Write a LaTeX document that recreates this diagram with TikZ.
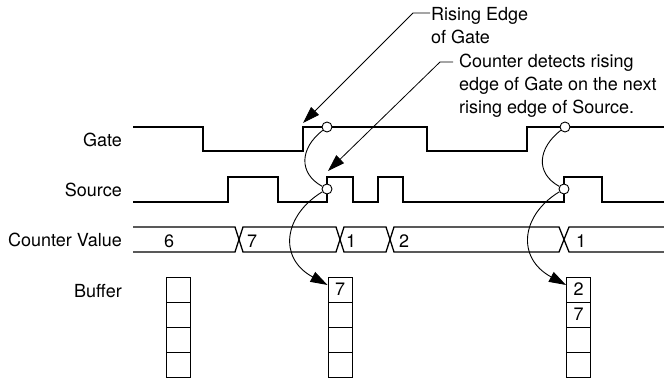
\documentclass[tikz,border=0pt]{standalone}
\usepackage{fontspec}
\setmainfont{TeX Gyre Heros}
\usetikzlibrary{arrows.meta}

\begin{document}
\begin{tikzpicture}[
      x=1pt, y=-1pt,
      font=\fontsize{18}{23}\selectfont,
      signal/.style={line width=1.3pt, line join=miter},
      siglabel/.style={anchor=east, inner sep=0pt},
      buslabel/.style={anchor=west, inner sep=0pt},
      edgemark/.style={
          circle, draw, fill=white, line width=0.9pt,
          minimum size=10pt, inner sep=0pt
      },
      bufcell/.style={
          rectangle, draw, line width=1pt,
          minimum width=24pt, minimum height=25pt, inner sep=0pt
      },
      notetext/.style={anchor=north west, align=left, inner sep=1pt},
      hop/.style={line width=0.9pt},
      pointer/.style={line width=0.9pt, -{Triangle[length=17pt,width=11pt]}}
  ]
    \useasboundingbox (0,0) rectangle (664,378);

    % Signal names
    \node[siglabel] (gatelbl) at (122,140) {Gate};
    \node[siglabel] (srclbl) at (122,190) {Source};
    \node[siglabel] (cntlbl) at (122,240) {Counter Value};
    \node[siglabel] (buflbl) at (122,291) {Buffer};

    % Gate and Source waveforms
    \draw[signal] (133,127) -| (203,151) -| (303,127) -| (427,151) -| (527,127) -- (664,127);
    \draw[signal] (133,202) -| (228,177) -| (278,202) -| (327,177) -| (353,202)
        -| (378,177) -| (403,202) -| (564,177) -| (602,202) -- (664,202);

    % Counter value bus
    \draw[signal] (133,227) -- (235,227) -- (243,252) -- (336,252) -- (344,227)
        -- (386,227) -- (394,252) -- (559,252) -- (569,227) -- (664,227);
    \draw[signal] (133,252) -- (235,252) -- (243,227) -- (336,227) -- (344,252)
        -- (386,252) -- (394,227) -- (559,227) -- (569,252) -- (664,252);
    \node[buslabel] (cnt6) at (164,241.5) {6};
    \node[buslabel] (cnt7) at (247,241.5) {7};
    \node[buslabel] (cnt1) at (346,241.5) {1};
    \node[buslabel] (cnt2) at (399,241.5) {2};
    \node[buslabel] (cnt1b) at (576,241.5) {1};

    % Buffers
    \foreach \i in {1,...,4}
        \node[bufcell] (bufa\i) at (178,{264.5+25*\i}) {};
    \foreach \val [count=\i] in {7,{},{},{}}
        \node[bufcell] (bufb\i) at (340,{264.5+25*\i}) {\val};
    \foreach \val [count=\i] in {2,7,{},{}}
        \node[bufcell] (bufc\i) at (578.5,{264.5+25*\i}) {\val};

    % Edge markers
    \node[edgemark] (g1) at (327,127) {};
    \node[edgemark] (s1) at (327,189) {};
    \node[edgemark] (g2) at (565,127) {};
    \node[edgemark] (s2) at (564,189) {};

    % Gate edge -> Source edge -> Buffer
    \foreach \g/\s/\b in {g1/s1/bufb1, g2/s2/bufc1} {
        \draw[hop] (\g) .. controls +(-27,21) and +(-29,-16) .. (\s);
        \draw[pointer] (\s) .. controls +(-43,26) and +(-50,-27) .. (\b.160);
    }

    % Annotations
    \node[notetext] (risenote) at (430,6) {Rising Edge\\of Gate};
    \node[notetext] (detectnote) at (458,53)
        {Counter detects rising\\edge of Gate on the next\\rising edge of Source.};
    \coordinate (risebend) at (413,13);
    \coordinate (risetip) at (303,123);
    \coordinate (detectbend) at (440,62);
    \coordinate (detecttip) at (328,171);
    \draw[pointer, line width=0.8pt] (risenote.west |- risebend) -- (risebend) -- (risetip);
    \draw[pointer, line width=0.8pt] ([xshift=-5pt]detectnote.west |- detectbend) -- (detectbend) -- (detecttip);
  \end{tikzpicture}
\end{document}
